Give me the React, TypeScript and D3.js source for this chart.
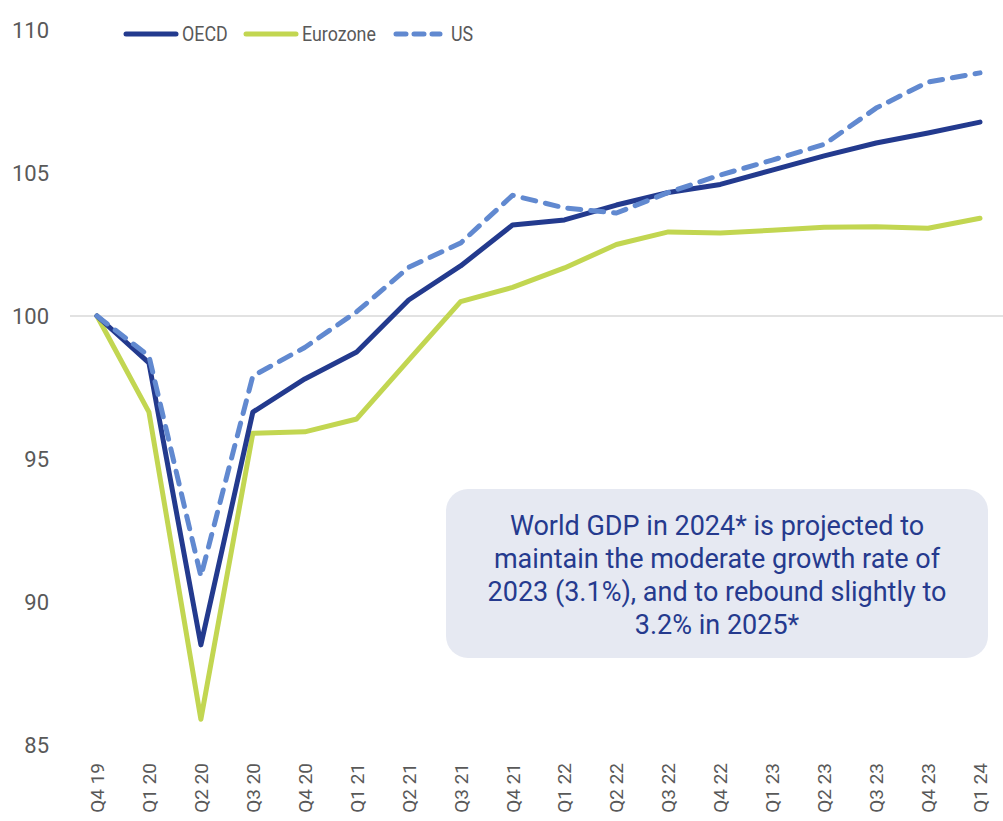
import * as d3 from "d3";
import { useEffect, useRef } from "react";

const quarters = ["Q4 19", "Q1 20", "Q2 20", "Q3 20", "Q4 20", "Q1 21", "Q2 21", "Q3 21", "Q4 21", "Q1 22", "Q2 22", "Q3 22", "Q4 22", "Q1 23", "Q2 23", "Q3 23", "Q4 23", "Q1 24"];
const oecd = [100, 98.36, 88.5, 96.64, 97.8, 98.74, 100.56, 101.75, 103.18, 103.36, 103.88, 104.32, 104.6, 105.1, 105.6, 106.05, 106.4, 106.78];
const eurozone = [100, 96.64, 85.9, 95.9, 95.95, 96.4, 98.46, 100.5, 101.0, 101.68, 102.5, 102.94, 102.9, 103.0, 103.1, 103.12, 103.07, 103.42];
const us = [100, 98.6, 90.9, 97.9, 98.9, 100.15, 101.7, 102.55, 104.22, 103.78, 103.6, 104.32, 104.93, 105.45, 106.0, 107.27, 108.18, 108.5];
const yTicks = [85, 90, 95, 100, 105, 110];
const noteLines = ["World GDP in 2024* is projected to", "maintain the moderate growth rate of", "2023 (3.1%), and to rebound slightly to", "3.2% in 2025*"];

const App = () => {
    const ref = useRef<SVGSVGElement>(null);

    useEffect(() => {
        const svg = d3.select(ref.current);
        svg.selectAll("*").remove();

        const font = "Roboto, sans-serif";
        const x = d3.scalePoint().domain(quarters).range([97, 980]);
        const y = d3.scaleLinear().domain([85, 110]).range([745, 30]);

        // gridline at 100 only
        svg.append("line")
            .attr("x1", 70).attr("x2", 1003)
            .attr("y1", y(100)).attr("y2", y(100))
            .attr("stroke", "#d9d9d9").attr("stroke-width", 1.5);

        svg.append("g").selectAll("text")
            .data(yTicks)
            .join("text")
            .attr("x", 49)
            .attr("y", (d) => y(d))
            .attr("dy", "0.35em")
            .attr("text-anchor", "end")
            .attr("font-family", font)
            .attr("font-size", 22)
            .attr("fill", "#595959")
            .text((d) => d);

        svg.append("g").selectAll("text")
            .data(quarters)
            .join("text")
            .attr("transform", (d) => "translate(" + (x(d)! + 7) + ",763) rotate(-90)")
            .attr("text-anchor", "end")
            .attr("font-family", font)
            .attr("font-size", 19)
            .attr("fill", "#595959")
            .text((d) => d);

        const line = d3.line<number>()
            .x((d, i) => x(quarters[i])!)
            .y((d) => y(d));

        const series = [
            { name: "Eurozone", data: eurozone, color: "#c2d651", dash: null },
            { name: "OECD", data: oecd, color: "#233a8e", dash: null },
            { name: "US", data: us, color: "#6189d0", dash: "13 10" },
        ];

        series.forEach((s) => {
            svg.append("path")
                .datum(s.data)
                .attr("d", line)
                .attr("fill", "none")
                .attr("stroke", s.color)
                .attr("stroke-width", 5)
                .attr("stroke-linejoin", "round")
                .attr("stroke-linecap", "round")
                .attr("stroke-dasharray", s.dash);
        });

        // legend (text is condensed in the original)
        const legend = [
            { name: "OECD", color: "#233a8e", dash: null, x1: 126, x2: 176, tx: 182 },
            { name: "Eurozone", color: "#c2d651", dash: null, x1: 246, x2: 296, tx: 302 },
            { name: "US", color: "#6189d0", dash: "10 8", x1: 396, x2: 440, tx: 451 },
        ];
        const lg = svg.append("g");
        legend.forEach((l) => {
            lg.append("line")
                .attr("x1", l.x1).attr("x2", l.x2)
                .attr("y1", 34).attr("y2", 34)
                .attr("stroke", l.color)
                .attr("stroke-width", 5)
                .attr("stroke-linecap", "round")
                .attr("stroke-dasharray", l.dash);
            lg.append("text")
                .attr("transform", "translate(" + l.tx + ",34) scale(0.85,1)")
                .attr("dy", "0.35em")
                .attr("font-family", font)
                .attr("font-size", 21)
                .attr("fill", "#595959")
                .text(l.name);
        });

        // note box
        svg.append("rect")
            .attr("x", 446).attr("y", 489)
            .attr("width", 542).attr("height", 169)
            .attr("rx", 22)
            .attr("fill", "#e6e9f2");

        svg.append("g").selectAll("text")
            .data(noteLines)
            .join("text")
            .attr("x", 717)
            .attr("y", (d, i) => 535 + i * 33)
            .attr("text-anchor", "middle")
            .attr("font-family", font)
            .attr("font-size", 27)
            .attr("fill", "#253a8e")
            .text((d) => d);
    }, []);

    return <svg ref={ref} width={1003} height={821} style={{ position: "absolute", left: 0, top: 0 }}></svg>;
};

export default App;
